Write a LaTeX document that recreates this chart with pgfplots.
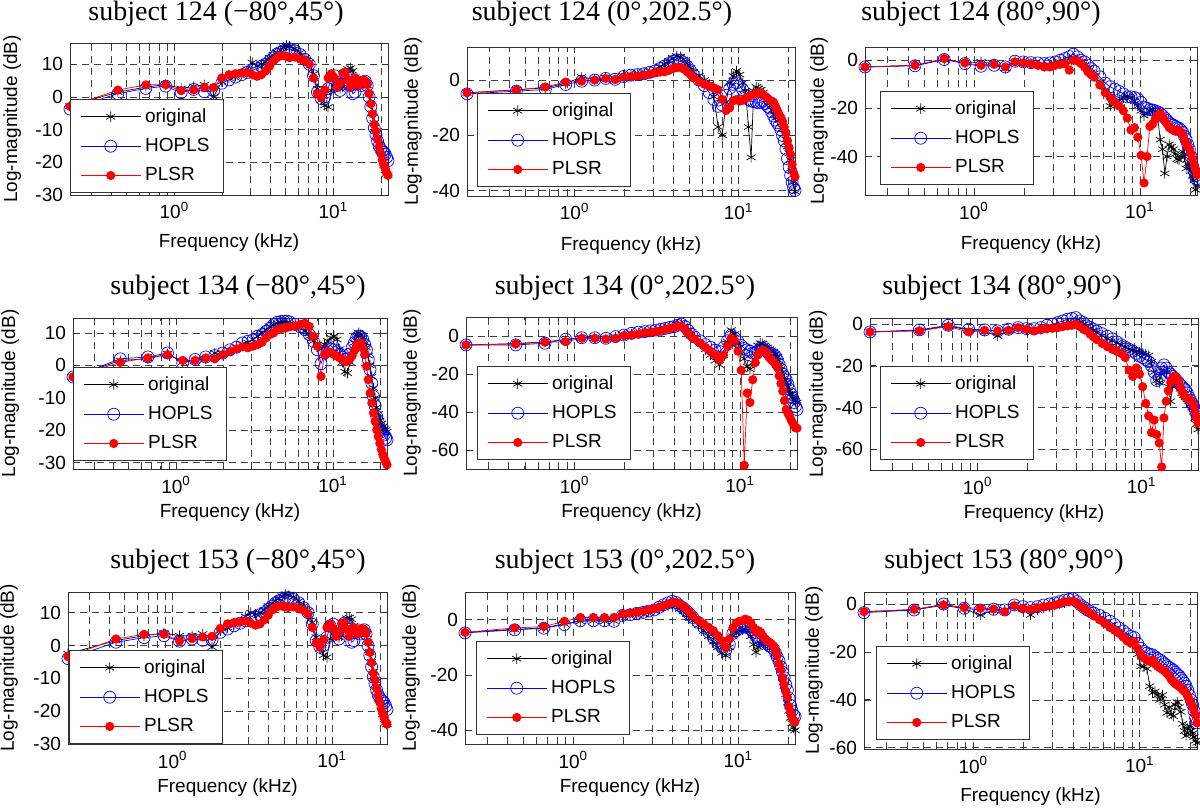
\documentclass[border=0pt]{standalone}
\usepackage{fontspec}
\setmainfont{Liberation Sans}
\newfontfamily\ttlfont{Liberation Serif}
\usepackage{pgfplots}
\usepackage{pgfplotstable}
\pgfplotsset{compat=1.18}

% ---------- data: f (kHz), original, HOPLS, PLSR ----------
\pgfplotstableread{
f o h p
0.2205 -2.8 -3.7 -2.9
0.441 1.5 1.0 2.1
0.6615 3.0 2.6 3.7
0.882 3.8 3.3 3.7
1.1025 2.6 1.3 1.9
1.323 3.2 2.3 2.1
1.5435 3.7 1.6 2.9
1.764 0.0 1.9 2.9
1.9845 4.7 4.2 5.8
2.205 5.8 5.2 6.8
2.4255 6.5 6.1 7.1
2.646 7.0 6.8 7.3
2.8665 8.5 7.5 7.5
3.087 10.5 8.2 6.8
3.3075 9.5 8.6 6.3
3.528 10.0 9.4 6.8
3.7485 10.8 10.0 7.9
3.969 12.0 11.0 9.4
4.1895 12.8 12.0 11.0
4.41 13.6 13.1 12.0
4.6305 14.3 13.6 12.6
4.851 15.2 14.1 12.6
5.0715 15.7 14.6 12.4
5.292 15.5 14.7 12.0
5.733 14.8 14.1 12.2
6.174 13.5 13.0 11.6
6.615 12.0 11.5 11.1
7.056 10.5 10.0 10.0
7.497 7.0 6.5 5.8
7.938 2.5 1.5 1.0
8.379 -1.0 -0.5 -0.2
8.82 -2.6 0.0 2.1
9.261 -3.1 2.5 5.8
9.702 2.0 6.0 7.1
10.143 5.5 6.5 5.8
10.584 4.0 3.5 3.1
11.025 2.5 2.0 4.2
11.466 3.0 4.0 7.3
11.907 6.0 6.8 7.6
12.348 8.5 6.5 5.2
12.789 8.8 3.5 3.0
13.23 8.0 1.0 5.0
13.671 6.0 1.5 5.8
14.112 4.5 4.0 4.5
14.553 4.0 4.5 3.5
14.994 4.5 3.5 4.8
15.435 5.0 4.5 5.2
15.876 4.5 4.8 4.8
16.317 3.5 3.5 3.8
16.758 1.0 0.0 1.0
17.199 -2.0 -3.0 -2.1
17.64 -5.0 -6.5 -5.2
18.081 -8.0 -9.5 -8.4
18.522 -10.5 -11.5 -10.5
18.963 -12.5 -13.5 -13.0
19.404 -14.5 -15.0 -15.2
19.845 -16.5 -16.0 -17.3
20.286 -18.5 -16.5 -19.3
20.727 -21.0 -17.0 -20.8
21.168 -22.5 -17.5 -22.0
21.609 -23.5 -18.5 -23.2
22.05 -24.0 -19.5 -24.0
}\tAA

\pgfplotstableread{
f o h p
0.2205 -4.6 -5.0 -4.6
0.441 -3.5 -4.0 -3.6
0.6615 -2.8 -3.4 -2.5
0.882 -1.2 -1.6 -0.7
1.1025 1.1 -0.4 -0.4
1.323 0.3 0.0 0.0
1.5435 0.8 0.6 0.6
1.764 0.5 0.3 0.2
1.9845 1.5 1.3 1.1
2.205 2.0 1.8 1.3
2.4255 2.3 2.0 1.5
2.646 2.6 2.3 1.8
2.8665 3.2 2.8 2.2
3.087 4.0 3.3 2.7
3.3075 5.0 4.2 2.9
3.528 5.7 5.1 3.0
3.7485 7.0 6.0 3.5
3.969 8.0 6.8 4.2
4.1895 8.7 7.4 4.5
4.41 8.5 7.2 4.6
4.6305 7.5 6.3 4.0
4.851 6.0 5.0 3.0
5.0715 4.5 3.5 2.0
5.292 3.0 2.0 0.8
5.733 1.5 0.0 -0.5
6.174 0.0 -2.0 -1.5
6.615 -1.5 -4.5 -2.2
7.056 -6.0 -7.0 -2.8
7.497 -17.0 -9.5 -3.5
7.938 -20.0 -9.0 -7.0
8.379 -8.0 -5.5 -11.0
8.82 -1.0 -3.0 -10.0
9.261 1.5 -1.5 -7.5
9.702 3.3 -1.0 -7.0
10.143 2.0 -2.0 -7.6
10.584 -1.0 -3.5 -7.3
11.025 -4.0 -5.5 -6.5
11.466 -17.0 -7.0 -6.2
11.907 -28.0 -7.6 -5.5
12.348 -4.0 -7.8 -5.2
12.789 -2.5 -8.0 -5.0
13.23 -3.0 -8.2 -4.6
13.671 -3.5 -8.0 -4.8
14.112 -4.5 -7.6 -5.2
14.553 -6.0 -8.5 -6.0
14.994 -7.0 -9.5 -6.6
15.435 -8.0 -10.1 -7.3
15.876 -9.5 -11.5 -7.6
16.317 -11.0 -13.0 -8.0
16.758 -12.5 -14.5 -9.5
17.199 -13.5 -15.5 -11.0
17.64 -14.5 -16.5 -12.5
18.081 -15.5 -18.0 -13.5
18.522 -17.5 -20.0 -15.0
18.963 -19.5 -22.0 -17.0
19.404 -21.5 -25.0 -19.0
19.845 -24.0 -28.5 -22.0
20.286 -26.5 -31.5 -24.5
20.727 -29.0 -34.5 -27.0
21.168 -33.0 -37.0 -30.5
21.609 -37.0 -39.0 -33.5
22.05 -40.4 -40.0 -35.0
}\tAB

\pgfplotstableread{
f o h p
0.2205 -2.8 -2.8 -2.8
0.441 -2.1 -2.3 -2.1
0.6615 0.3 0.3 0.7
0.882 -1.0 -1.4 -1.1
1.1025 -0.7 -2.5 -2.1
1.323 -1.5 -2.1 -1.7
1.5435 -3.4 -2.8 -2.8
1.764 -0.5 -0.4 -0.7
1.9845 -1.0 -0.7 -1.1
2.205 -1.2 -1.0 -1.4
2.4255 -2.0 -1.1 -2.1
2.646 -2.5 -1.4 -2.8
2.8665 -2.0 -1.1 -2.8
3.087 -1.5 -0.7 -2.1
3.3075 -0.8 0.0 -1.7
3.528 -0.5 0.7 -1.4
3.7485 0.5 1.5 -4.1
3.969 1.0 2.5 0.0
4.1895 0.5 1.4 -0.3
4.41 -0.5 0.0 -1.4
4.6305 -2.0 -0.7 -2.8
4.851 -3.5 -2.0 -4.8
5.0715 -5.0 -3.5 -6.0
5.292 -6.5 -4.5 -7.0
5.733 -9.0 -6.9 -10.3
6.174 -13.0 -9.5 -13.5
6.615 -19.0 -11.0 -15.5
7.056 -18.0 -12.0 -17.5
7.497 -16.5 -13.0 -19.0
7.938 -15.5 -14.0 -21.0
8.379 -15.2 -15.2 -24.0
8.82 -15.5 -15.2 -29.0
9.261 -17.0 -15.5 -28.0
9.702 -19.0 -16.0 -32.0
10.143 -21.0 -17.5 -39.5
10.584 -23.0 -19.5 -51.0
11.025 -22.0 -20.0 -40.0
11.466 -21.0 -20.5 -27.5
11.907 -20.5 -20.7 -26.5
12.348 -21.0 -21.0 -24.5
12.789 -24.0 -21.5 -23.0
13.23 -33.0 -22.0 -22.0
13.671 -37.0 -23.0 -23.5
14.112 -47.0 -24.0 -25.0
14.553 -40.0 -25.0 -26.5
14.994 -35.0 -26.0 -28.0
15.435 -36.0 -26.5 -28.5
15.876 -37.0 -27.0 -29.0
16.317 -39.0 -27.5 -29.5
16.758 -41.0 -28.0 -29.5
17.199 -41.5 -28.3 -29.0
17.64 -40.0 -29.0 -30.0
18.081 -38.0 -30.0 -31.0
18.522 -40.0 -31.5 -33.0
18.963 -45.0 -33.0 -34.5
19.404 -43.0 -35.0 -36.0
19.845 -44.0 -37.0 -37.0
20.286 -46.0 -40.0 -39.0
20.727 -48.0 -44.0 -41.0
21.168 -50.0 -46.0 -43.5
21.609 -53.8 -48.0 -45.5
22.05 -52.0 -49.7 -47.6
}\tAC

\pgfplotstableread{
f o h p
0.2205 -3.6 -3.6 -3.6
0.441 1.5 2.0 0.9
0.6615 2.0 2.6 2.3
0.882 3.5 3.8 3.3
1.1025 1.0 0.7 1.5
1.323 1.5 1.8 1.5
1.5435 2.0 2.6 2.3
1.764 3.8 3.0 2.0
1.9845 3.5 3.8 3.3
2.205 4.5 4.8 4.3
2.4255 5.5 5.6 5.1
2.646 6.5 6.9 5.7
2.8665 7.0 7.4 5.4
3.087 8.0 7.9 5.9
3.3075 9.0 9.0 6.4
3.528 10.0 9.5 7.1
3.7485 11.0 10.5 8.5
3.969 12.0 11.5 9.5
4.1895 12.5 12.6 10.0
4.41 13.0 13.3 11.0
4.6305 13.2 13.5 11.3
4.851 13.3 13.6 11.5
5.0715 13.0 13.6 11.7
5.292 12.8 13.4 11.9
5.733 12.2 12.6 12.1
6.174 11.5 11.9 12.6
6.615 10.5 11.0 13.0
7.056 9.0 9.5 12.0
7.497 7.5 7.4 9.0
7.938 6.4 4.8 5.9
8.379 5.0 0.5 -3.4
8.82 6.4 3.8 3.3
9.261 7.5 4.5 4.3
9.702 8.5 5.0 3.8
10.143 9.0 4.8 3.3
10.584 8.0 4.2 2.8
11.025 5.0 3.5 2.3
11.466 1.0 2.5 1.8
11.907 -2.0 1.8 1.2
12.348 -2.4 2.0 1.3
12.789 1.0 3.5 2.0
13.23 4.5 5.5 3.0
13.671 7.0 7.0 4.5
14.112 9.0 8.5 6.0
14.553 10.0 9.0 6.9
14.994 9.5 8.8 6.9
15.435 8.5 8.0 5.5
15.876 7.0 6.5 3.3
16.317 5.5 4.8 -0.3
16.758 3.0 1.8 -4.4
17.199 0.0 -1.3 -8.6
17.64 -3.5 -5.5 -11.6
18.081 -7.0 -9.6 -14.7
18.522 -10.0 -12.5 -17.3
18.963 -13.0 -15.8 -19.9
19.404 -15.0 -17.5 -22.0
19.845 -17.0 -19.9 -24.0
20.286 -18.0 -20.5 -26.0
20.727 -18.9 -21.0 -27.6
21.168 -19.5 -21.5 -28.7
21.609 -20.0 -22.5 -29.7
22.05 -20.5 -23.0 -30.7
}\tBA

\pgfplotstableread{
f o h p
0.2205 -4.7 -4.7 -4.7
0.441 -4.0 -4.7 -4.2
0.6615 -3.0 -3.8 -3.3
0.882 -2.0 -1.7 -3.0
1.1025 -1.0 -0.9 -1.2
1.323 -1.0 -0.9 -1.2
1.5435 -1.3 -1.2 -1.6
1.764 -0.5 -0.3 -1.2
1.9845 0.0 0.5 0.2
2.205 1.0 1.4 0.5
2.4255 1.5 2.0 1.0
2.646 2.0 2.3 1.7
2.8665 2.5 2.7 2.0
3.087 3.0 3.1 2.3
3.3075 3.5 3.5 2.8
3.528 4.0 4.0 3.5
3.7485 4.5 4.5 4.0
3.969 5.0 4.9 4.5
4.1895 6.0 5.6 5.2
4.41 6.6 6.3 5.2
4.6305 5.0 5.0 3.5
4.851 3.0 3.0 1.5
5.0715 1.0 1.0 -0.3
5.292 -1.0 -0.5 -1.5
5.733 -4.0 -2.5 -3.8
6.174 -7.0 -4.5 -6.0
6.615 -10.0 -6.0 -8.0
7.056 -13.0 -7.5 -10.0
7.497 -15.2 -8.2 -12.6
7.938 -10.0 -6.0 -10.0
8.379 -3.0 -2.5 -5.5
8.82 3.1 0.5 -1.2
9.261 1.0 -1.0 -2.5
9.702 -4.0 -3.0 -8.0
10.143 -8.0 -5.0 -18.0
10.584 -12.0 -6.5 -68.0
11.025 -16.0 -7.3 -30.0
11.466 -17.5 -8.0 -35.0
11.907 -14.0 -9.0 -23.0
12.348 -9.0 -9.0 -14.0
12.789 -5.0 -8.0 -10.0
13.23 -3.8 -6.5 -8.2
13.671 -4.0 -6.5 -7.3
14.112 -5.0 -7.5 -8.0
14.553 -6.0 -8.5 -9.0
14.994 -7.0 -9.5 -11.5
15.435 -7.5 -10.0 -12.6
15.876 -8.2 -10.0 -13.5
16.317 -9.5 -10.5 -15.0
16.758 -11.0 -12.5 -16.5
17.199 -13.0 -15.0 -21.0
17.64 -16.0 -17.5 -25.0
18.081 -19.0 -20.0 -29.0
18.522 -22.0 -21.5 -34.0
18.963 -24.8 -23.0 -38.7
19.404 -27.0 -25.5 -40.5
19.845 -29.0 -28.0 -42.2
20.286 -30.5 -30.5 -44.0
20.727 -31.8 -32.5 -45.7
21.168 -33.0 -35.0 -47.0
21.609 -34.0 -37.0 -48.3
22.05 -35.0 -38.7 -48.5
}\tBB

\pgfplotstableread{
f o h p
0.2205 -3.7 -3.7 -3.7
0.441 -3.0 -2.7 -3.2
0.6615 -0.8 -0.5 -1.1
0.882 -2.8 -2.4 -3.7
1.1025 -3.5 -2.7 -2.9
1.323 -5.6 -3.2 -3.2
1.5435 -3.0 -2.4 -2.9
1.764 -1.8 -1.6 -1.6
1.9845 -2.5 -2.1 -2.4
2.205 -2.8 -2.1 -3.2
2.4255 -2.5 -1.6 -2.4
2.646 -2.0 -0.5 -2.1
2.8665 -1.5 0.0 -1.9
3.087 -1.0 0.8 -1.6
3.3075 -0.5 1.6 -1.1
3.528 0.0 2.4 -0.8
3.7485 0.8 2.8 -0.5
3.969 1.5 3.2 0.0
4.1895 1.0 1.6 -1.1
4.41 0.0 0.8 -2.4
4.6305 -1.0 -0.8 -3.2
4.851 -2.0 -1.6 -4.8
5.0715 -3.0 -2.4 -6.0
5.292 -4.0 -3.2 -7.3
5.733 -5.5 -4.5 -9.2
6.174 -7.0 -5.8 -10.8
6.615 -8.0 -7.0 -12.0
7.056 -9.0 -8.5 -13.0
7.497 -10.0 -9.8 -14.0
7.938 -11.0 -11.0 -16.0
8.379 -12.0 -12.0 -22.0
8.82 -12.5 -12.9 -25.0
9.261 -13.0 -14.0 -21.0
9.702 -13.5 -15.3 -24.0
10.143 -14.0 -16.0 -30.0
10.584 -14.5 -17.0 -38.0
11.025 -15.0 -18.0 -44.0
11.466 -18.0 -20.0 -52.0
11.907 -23.0 -23.0 -46.0
12.348 -27.0 -27.0 -53.0
12.789 -28.0 -26.0 -57.0
13.23 -24.0 -21.0 -68.5
13.671 -22.0 -19.5 -45.0
14.112 -23.0 -21.0 -37.0
14.553 -30.0 -23.0 -32.0
14.994 -37.0 -24.0 -28.0
15.435 -30.0 -25.0 -26.0
15.876 -27.0 -26.0 -25.0
16.317 -27.5 -27.0 -25.5
16.758 -29.0 -28.0 -27.0
17.199 -31.0 -29.0 -30.0
17.64 -33.0 -30.0 -32.5
18.081 -34.0 -31.0 -34.0
18.522 -35.0 -31.5 -35.0
18.963 -36.0 -33.0 -35.5
19.404 -37.0 -35.0 -36.0
19.845 -38.5 -36.5 -36.5
20.286 -40.0 -38.0 -37.5
20.727 -42.0 -39.5 -39.0
21.168 -45.0 -41.0 -42.0
21.609 -48.0 -43.0 -45.0
22.05 -50.5 -44.4 -47.5
}\tBC

\pgfplotstableread{
f o h p
0.2205 -2.5 -4.0 -3.4
0.441 1.5 1.0 2.0
0.6615 3.0 2.4 3.4
0.882 3.8 3.0 3.4
1.1025 3.0 1.3 1.4
1.323 3.0 2.0 2.1
1.5435 3.5 1.6 2.6
1.764 -0.5 1.8 2.8
1.9845 4.5 4.0 5.2
2.205 5.5 5.0 6.6
2.4255 6.4 6.0 7.0
2.646 7.0 6.8 7.2
2.8665 8.8 7.5 7.5
3.087 10.0 8.2 6.8
3.3075 9.5 8.6 6.2
3.528 10.0 9.4 6.6
3.7485 10.8 10.0 7.8
3.969 12.0 11.0 9.2
4.1895 12.8 12.0 10.8
4.41 13.6 13.0 11.6
4.6305 14.3 13.6 12.0
4.851 15.0 14.0 12.0
5.0715 15.6 14.5 11.8
5.292 15.4 14.6 11.6
5.733 14.8 14.0 11.8
6.174 13.5 13.0 11.2
6.615 12.0 11.5 10.8
7.056 10.5 10.0 9.6
7.497 7.0 6.5 5.5
7.938 2.5 1.5 0.8
8.379 -1.0 -0.5 -0.5
8.82 -3.0 0.0 1.8
9.261 -3.6 2.5 5.5
9.702 2.0 6.0 6.5
10.143 5.5 6.5 5.2
10.584 4.0 3.5 2.8
11.025 2.5 2.0 4.0
11.466 3.0 4.0 6.8
11.907 6.0 6.8 7.0
12.348 8.3 6.5 5.0
12.789 8.5 3.5 2.8
13.23 8.0 1.0 4.8
13.671 6.0 1.5 5.5
14.112 4.5 4.0 4.5
14.553 4.0 4.5 3.5
14.994 4.5 3.5 4.8
15.435 5.0 4.5 5.2
15.876 4.5 4.8 4.8
16.317 3.5 3.5 3.8
16.758 1.0 0.0 1.0
17.199 -2.0 -3.0 -2.1
17.64 -5.0 -6.5 -5.2
18.081 -8.0 -9.5 -8.4
18.522 -10.5 -11.5 -10.5
18.963 -12.5 -13.5 -13.0
19.404 -14.5 -15.0 -15.2
19.845 -16.5 -16.0 -17.3
20.286 -18.5 -16.5 -19.3
20.727 -21.0 -17.0 -20.8
21.168 -22.5 -17.5 -22.0
21.609 -23.5 -18.5 -23.2
22.05 -24.0 -19.5 -24.0
}\tCA

\pgfplotstableread{
f o h p
0.2205 -4.6 -4.8 -4.6
0.441 -3.5 -3.7 -3.0
0.6615 -3.0 -3.1 -2.5
0.882 -1.5 -1.8 -0.6
1.1025 -0.6 -0.4 0.8
1.323 -0.4 -0.4 0.8
1.5435 -0.6 -0.4 0.8
1.764 -0.5 -0.6 0.8
1.9845 1.5 1.5 2.0
2.205 1.8 1.8 2.4
2.4255 2.0 2.3 2.7
2.646 2.3 2.6 3.0
2.8665 2.8 3.1 3.5
3.087 3.3 3.5 3.9
3.3075 4.0 4.5 4.5
3.528 4.5 5.4 5.1
3.7485 5.0 6.1 5.7
3.969 5.5 6.6 6.3
4.1895 5.0 6.2 6.3
4.41 3.9 5.1 5.7
4.6305 3.0 4.2 4.8
4.851 2.0 3.2 3.9
5.0715 0.5 2.0 2.7
5.292 -0.4 0.8 1.4
5.733 -2.0 -1.0 -0.4
6.174 -4.0 -2.8 -1.6
6.615 -6.0 -4.5 -2.8
7.056 -8.0 -6.5 -4.0
7.497 -10.0 -8.5 -5.8
7.938 -12.0 -10.0 -7.6
8.379 -13.0 -11.2 -10.0
8.82 -10.0 -9.0 -7.0
9.261 -6.0 -5.0 -3.0
9.702 -4.5 -4.0 -1.2
10.143 -4.0 -3.0 -0.6
10.584 -3.6 -2.5 -0.4
11.025 -3.4 -2.2 0.2
11.466 -4.0 -2.6 -0.2
11.907 -6.0 -3.5 -1.2
12.348 -9.0 -4.8 -2.8
12.789 -11.8 -6.0 -4.6
13.23 -10.0 -6.8 -4.0
13.671 -8.5 -7.2 -4.6
14.112 -7.6 -7.4 -6.0
14.553 -8.0 -8.0 -7.0
14.994 -9.0 -8.8 -7.8
15.435 -9.5 -9.5 -8.2
15.876 -10.0 -10.0 -8.8
16.317 -11.0 -10.6 -9.4
16.758 -12.5 -12.0 -11.0
17.199 -14.0 -13.5 -13.0
17.64 -16.0 -15.0 -16.0
18.081 -18.5 -17.0 -18.0
18.522 -21.0 -19.0 -21.0
18.963 -24.0 -21.0 -23.5
19.404 -27.0 -23.5 -26.0
19.845 -30.0 -25.5 -28.0
20.286 -33.0 -28.5 -31.5
20.727 -35.5 -31.0 -33.5
21.168 -37.5 -33.0 -35.5
21.609 -39.0 -34.5 -36.5
22.05 -40.0 -35.0 -37.0
}\tCB

\pgfplotstableread{
f o h p
0.2205 -3.2 -3.6 -3.2
0.441 -2.5 -2.5 -2.2
0.6615 -0.5 0.0 -0.4
0.882 -2.0 -1.8 -1.5
1.1025 -4.6 -2.5 -1.8
1.323 -2.5 -2.2 -2.1
1.5435 -2.5 -2.5 -3.2
1.764 -0.7 -0.4 -0.7
1.9845 -2.0 -1.1 -1.8
2.205 -4.6 -1.5 -2.2
2.4255 -2.5 -1.1 -1.5
2.646 -1.5 -0.4 -1.1
2.8665 -1.0 0.0 -0.8
3.087 -0.5 0.5 -0.4
3.3075 0.0 1.0 0.3
3.528 0.5 1.6 1.0
3.7485 1.0 1.9 1.0
3.969 1.5 2.2 1.2
4.1895 0.5 1.0 0.3
4.41 -0.5 -0.4 -1.1
4.6305 -1.5 -1.5 -2.0
4.851 -2.5 -2.5 -3.0
5.0715 -3.5 -3.2 -4.0
5.292 -4.5 -3.8 -5.0
5.733 -6.0 -4.8 -6.6
6.174 -7.5 -6.0 -8.2
6.615 -9.0 -7.2 -9.8
7.056 -10.5 -8.6 -11.0
7.497 -12.0 -10.0 -12.2
7.938 -13.5 -11.2 -13.8
8.379 -14.5 -12.5 -15.4
8.82 -15.0 -13.5 -16.3
9.261 -17.0 -14.0 -15.6
9.702 -21.0 -16.5 -18.5
10.143 -26.0 -18.5 -21.0
10.584 -26.0 -19.8 -22.5
11.025 -27.0 -20.5 -23.5
11.466 -34.3 -21.0 -24.0
11.907 -37.0 -21.2 -23.3
12.348 -36.5 -22.0 -25.0
12.789 -38.0 -22.8 -26.0
13.23 -40.0 -23.3 -26.7
13.671 -38.0 -24.2 -27.4
14.112 -42.0 -25.0 -28.0
14.553 -45.4 -25.8 -29.0
14.994 -43.0 -26.5 -30.0
15.435 -46.0 -27.0 -31.5
15.876 -46.8 -27.6 -32.5
16.317 -42.0 -28.5 -33.3
16.758 -41.0 -29.3 -33.8
17.199 -43.0 -30.0 -34.3
17.64 -45.0 -31.0 -35.0
18.081 -50.0 -32.0 -35.7
18.522 -53.0 -33.0 -36.4
18.963 -55.0 -34.3 -37.1
19.404 -52.0 -36.0 -38.5
19.845 -51.0 -38.0 -39.9
20.286 -53.0 -40.0 -41.3
20.727 -54.0 -42.0 -42.7
21.168 -55.5 -44.5 -44.5
21.609 -57.0 -47.5 -46.5
22.05 -57.9 -49.6 -49.6
}\tCC

\newcommand{\fs}{\fontsize{9.5}{11}\selectfont}
\newcommand{\tfs}{\ttlfont\fontsize{14}{16}\selectfont}

\pgfplotsset{
  legend image code/.code={\draw[mark repeat=2,mark phase=2,#1] plot coordinates {(0pt,0pt) (15pt,0pt) (30pt,0pt)};},
}
\pgfplotsset{
  scale only axis,
  xmin=0.2205, xmax=22.05,
  xtick={1,10},
  xticklabels={10\textsuperscript{0},10\textsuperscript{1}},
  minor xtick={0.3,0.4,0.5,0.6,0.7,0.8,0.9,2,3,4,5,6,7,8,9,20},
  grid=both,
  major grid style={black!75, line width=0.35pt, dash pattern=on 3.5pt off 2.5pt},
  minor grid style={black!75, line width=0.35pt, dash pattern=on 3.5pt off 2.5pt},
  tick align=inside,
  major tick length=3pt,
  minor tick length=1.6pt,
  tick style={black!80, line width=0.4pt},
  axis line style={black!80, line width=0.4pt},
  clip=false,
  tick label style={font=\fs},
  label style={font=\fs},
  xlabel={Frequency (kHz)},
  ylabel={Log-magnitude (dB)},
  legend cell align=left,
  legend style={font=\fs, draw=black!80, line width=0.4pt, fill=white,
    inner xsep=5pt, inner ysep=2.5pt, row sep=2.5pt,
    at={(rel axis cs:0,0)}, anchor=south west},
}
\pgfkeys{/pgf/number format/assume math mode=true}

\newcommand{\threeplots}[1]{%
  \addplot[black, line width=0.35pt, mark=asterisk, mark size=2.6pt] table[x=f,y=o]{#1};
  \addplot[blue, line width=0.35pt, mark=o, mark size=3pt] table[x=f,y=h]{#1};
  \addplot[red, line width=0.35pt, mark=*, mark size=2.1pt, mark options={fill=red, draw=red}] table[x=f,y=p]{#1};
  \legend{original,HOPLS,PLSR}
}

\begin{document}
\begin{tikzpicture}
\path[use as bounding box] (0,0) rectangle (600pt,-404.5pt);

% ---------------- row 1 ----------------
\begin{semilogxaxis}[at={(35pt,-21.5pt)}, anchor=north west, width=159pt, height=76pt,
  ymin=-30, ymax=16.5, ytick={-30,-20,-10,0,10},
  ylabel style={at={(axis description cs:-0.182,0.5)}, anchor=center},
  xlabel style={at={(axis description cs:0.5,0)}, anchor=center, yshift=-24pt},
  legend style={xshift=0pt, yshift=1pt}]
\threeplots{\tAA}
\end{semilogxaxis}

\begin{semilogxaxis}[at={(233.5pt,-23.5pt)}, anchor=north west, width=164pt, height=74.5pt,
  ymin=-42, ymax=12, ytick={-40,-20,0},
  ylabel style={at={(axis description cs:-0.165,0.5)}, anchor=center},
  xlabel style={at={(axis description cs:0.5,0)}, anchor=center, yshift=-25pt},
  legend style={xshift=5pt, yshift=4.5pt}]
\threeplots{\tAB}
\end{semilogxaxis}

\begin{semilogxaxis}[at={(432.5pt,-23.5pt)}, anchor=north west, width=166pt, height=74pt,
  ymin=-56, ymax=5.5, ytick={-40,-20,0},
  ylabel style={at={(axis description cs:-0.139,0.5)}, anchor=center},
  xlabel style={at={(axis description cs:0.5,0)}, anchor=center, yshift=-25pt},
  legend style={xshift=7.5pt, yshift=5pt}]
\threeplots{\tAC}
\end{semilogxaxis}

% ---------------- row 2 ----------------
\begin{semilogxaxis}[at={(36.5pt,-159pt)}, anchor=north west, width=157pt, height=75.5pt,
  ymin=-32, ymax=14.6, ytick={-30,-20,-10,0,10},
  ylabel style={at={(axis description cs:-0.2,0.5)}, anchor=center},
  xlabel style={at={(axis description cs:0.5,0)}, anchor=center, yshift=-22pt},
  legend style={xshift=0pt, yshift=4pt}]
\threeplots{\tBA}
\end{semilogxaxis}

\begin{semilogxaxis}[at={(233pt,-158.5pt)}, anchor=north west, width=165.5pt, height=76pt,
  ymin=-70, ymax=10, ytick={-60,-40,-20,0},
  ylabel style={at={(axis description cs:-0.163,0.5)}, anchor=center},
  xlabel style={at={(axis description cs:0.5,0)}, anchor=center, yshift=-22pt},
  legend style={xshift=5.5pt, yshift=4.5pt}]
\threeplots{\tBB}
\end{semilogxaxis}

\begin{semilogxaxis}[at={(435pt,-159pt)}, anchor=north west, width=164pt, height=76pt,
  ymin=-70, ymax=3, ytick={-60,-40,-20,0},
  ylabel style={at={(axis description cs:-0.159,0.5)}, anchor=center},
  xlabel style={at={(axis description cs:0.5,0)}, anchor=center, yshift=-22pt},
  legend style={xshift=5pt, yshift=5pt}]
\threeplots{\tBC}
\end{semilogxaxis}

% ---------------- row 3 ----------------
\begin{semilogxaxis}[at={(34pt,-296pt)}, anchor=north west, width=159.5pt, height=76pt,
  ymin=-30, ymax=16.3, ytick={-30,-20,-10,0,10},
  ylabel style={at={(axis description cs:-0.185,0.5)}, anchor=center},
  xlabel style={at={(axis description cs:0.5,0)}, anchor=center, yshift=-22pt},
  legend style={xshift=0.5pt, yshift=0pt}]
\threeplots{\tCA}
\end{semilogxaxis}

\begin{semilogxaxis}[at={(232.5pt,-296pt)}, anchor=north west, width=165pt, height=76pt,
  ymin=-45, ymax=10, ytick={-40,-20,0},
  ylabel style={at={(axis description cs:-0.164,0.5)}, anchor=center},
  xlabel style={at={(axis description cs:0.5,0)}, anchor=center, yshift=-22pt},
  legend style={xshift=5.5pt, yshift=4.5pt}]
\threeplots{\tCB}
\end{semilogxaxis}

\begin{semilogxaxis}[at={(432pt,-296pt)}, anchor=north west, width=166.5pt, height=78.5pt,
  ymin=-60.5, ymax=5, ytick={-60,-40,-20,0},
  ylabel style={at={(axis description cs:-0.150,0.5)}, anchor=center},
  xlabel style={at={(axis description cs:0.5,0)}, anchor=center, yshift=-24pt},
  legend style={xshift=6pt, yshift=4.5pt}]
\threeplots{\tCC}
\end{semilogxaxis}

% ---------------- titles ----------------
\node[font=\tfs] at (108pt,-7pt) {subject 124 (−80°,45°)};
\node[font=\tfs] at (301pt,-7pt) {subject 124 (0°,202.5°)};
\node[font=\tfs] at (490.5pt,-7pt) {subject 124 (80°,90°)};
\node[font=\tfs] at (119pt,-144pt) {subject 134 (−80°,45°)};
\node[font=\tfs] at (312.5pt,-144pt) {subject 134 (0°,202.5°)};
\node[font=\tfs] at (501pt,-144pt) {subject 134 (80°,90°)};
\node[font=\tfs] at (119pt,-281pt) {subject 153 (−80°,45°)};
\node[font=\tfs] at (312.5pt,-281pt) {subject 153 (0°,202.5°)};
\node[font=\tfs] at (502pt,-281pt) {subject 153 (80°,90°)};
\end{tikzpicture}
\end{document}
